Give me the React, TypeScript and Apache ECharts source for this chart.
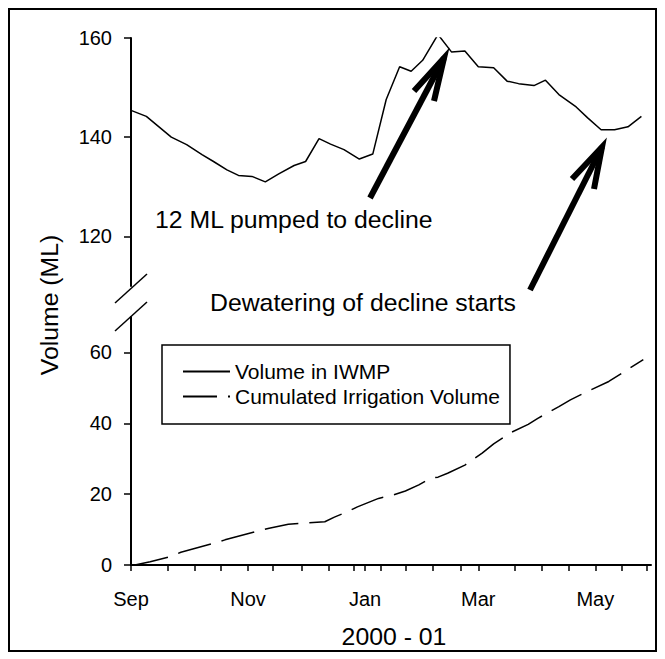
import React, { useEffect, useRef } from "react";
import * as echarts from "echarts";

// Days counted from 1 Sep 2000
const iwmpDays = [0, 8, 21, 29, 37, 43, 50, 56, 63, 70, 77, 85, 91, 98, 104, 111, 119, 126, 133, 140, 146, 152, 160, 167, 174, 181, 189, 196, 202, 210, 216, 223, 232, 238, 245, 252, 259, 266];
const iwmpVolume = [145.4, 144.2, 140.0, 138.5, 136.5, 135.1, 133.4, 132.3, 132.1, 131.0, 132.6, 134.3, 135.1, 139.7, 138.6, 137.5, 135.6, 136.6, 147.6, 154.2, 153.3, 155.5, 160.7, 157.2, 157.4, 154.2, 154.0, 151.3, 150.8, 150.4, 151.5, 148.6, 146.1, 143.9, 141.5, 141.5, 142.1, 144.2];

const irrigDays = [2, 10, 20, 26, 43, 49, 66, 72, 82, 90, 101, 106, 113, 118, 129, 137, 143, 150, 156, 160, 165, 174, 183, 189, 198, 207, 212, 223, 229, 236, 249, 267];
const irrigVolume = [0, 0.9, 2.3, 3.6, 6.1, 7.1, 9.6, 10.4, 11.5, 11.8, 12.2, 13.5, 15.1, 16.4, 18.8, 19.8, 20.9, 22.6, 24.5, 24.8, 25.9, 28.2, 31.6, 34.2, 37.4, 39.7, 41.4, 44.7, 46.6, 48.5, 51.8, 58.0];

const monthTickDays = [0, 61, 122, 181, 242];
const monthLabels = ["Sep", "Nov", "Jan", "Mar", "May"];
const xTickDays = [0, 19, 33, 47, 61, 74, 89, 103, 116, 122, 130, 143, 157, 172, 181, 200, 214, 228, 242, 256, 269];
const upperYTicks = [120, 140, 160];
const lowerYTicks = [0, 20, 40, 60];

const FONT = '"Liberation Sans", Arial, Helvetica, sans-serif';
const BLACK = "#000";

export default function App() {
  const ref = useRef<HTMLDivElement>(null);

  useEffect(() => {
    if (!ref.current) return;
    const chart = echarts.init(ref.current, null, { renderer: "svg" });

    const iwmp = iwmpDays.map((d, i) => [d, iwmpVolume[i]]);
    const irrig = irrigDays.map((d, i) => [d, irrigVolume[i]]);

    const axisLineStyle = { color: BLACK, width: 2 };
    const labelStyle = { color: BLACK, fontSize: 20, fontFamily: FONT };

    const arrow = (tail: number[], tip: number[], b1: number[], b2: number[]) => [
      {
        type: "line",
        shape: { x1: tail[0], y1: tail[1], x2: tip[0], y2: tip[1] },
        style: { stroke: BLACK, lineWidth: 6 },
        silent: true,
      },
      {
        type: "polyline",
        shape: { points: [b1, tip, b2] },
        style: { stroke: BLACK, lineWidth: 6, fill: "none", lineJoin: "miter" },
        silent: true,
      },
    ];

    const option: any = {
      animation: false,
      backgroundColor: "#fff",
      grid: [
        { left: 131, top: 38, width: 520, height: 248 },
        { left: 131, top: 317, width: 520, height: 248 },
      ],
      xAxis: [
        { type: "value", gridIndex: 0, min: 0, max: 271, show: false },
        {
          type: "value",
          gridIndex: 1,
          min: 0,
          max: 271,
          axisLine: { show: true, onZero: false, lineStyle: axisLineStyle },
          splitLine: { show: false },
          axisTick: { show: true, customValues: xTickDays, length: 6, lineStyle: { color: BLACK, width: 1.5 } },
          axisLabel: {
            ...labelStyle,
            customValues: monthTickDays,
            margin: 24,
            formatter: (v: number) => {
              const i = monthTickDays.indexOf(v);
              return i >= 0 ? monthLabels[i] : "";
            },
          },
        },
      ],
      yAxis: [
        {
          type: "value",
          gridIndex: 0,
          min: 110,
          max: 160,
          axisLine: { show: true, lineStyle: axisLineStyle },
          splitLine: { show: false },
          axisTick: { show: true, customValues: upperYTicks, length: 7, lineStyle: { color: BLACK, width: 1.5 } },
          axisLabel: { ...labelStyle, customValues: upperYTicks, margin: 19 },
        },
        {
          type: "value",
          gridIndex: 1,
          min: 0,
          max: 70,
          axisLine: { show: true, lineStyle: axisLineStyle },
          splitLine: { show: false },
          axisTick: { show: true, customValues: lowerYTicks, length: 7, lineStyle: { color: BLACK, width: 1.5 } },
          axisLabel: { ...labelStyle, customValues: lowerYTicks, margin: 19 },
        },
      ],
      legend: {
        left: 162,
        top: 345,
        orient: "vertical",
        padding: [16, 10, 17, 20],
        borderColor: BLACK,
        borderWidth: 1.5,
        itemWidth: 47,
        itemHeight: 14,
        itemGap: 4,
        itemStyle: { color: "rgba(0,0,0,0)", borderWidth: 0 },
        textStyle: { color: BLACK, fontSize: 21, fontFamily: FONT },
        data: ["Volume in IWMP", "Cumulated Irrigation Volume"],
      },
      series: [
        {
          name: "Volume in IWMP",
          type: "line",
          xAxisIndex: 0,
          yAxisIndex: 0,
          data: iwmp,
          symbol: "none",
          lineStyle: { color: BLACK, width: 1.5 },
          itemStyle: { color: BLACK },
        },
        {
          name: "Cumulated Irrigation Volume",
          type: "line",
          xAxisIndex: 1,
          yAxisIndex: 1,
          data: irrig,
          symbol: "none",
          lineStyle: { color: BLACK, width: 1.5, type: [34, 11] },
          itemStyle: { color: BLACK },
        },
      ],
      graphic: [
        {
          type: "rect",
          shape: { x: 9, y: 9, width: 647, height: 642 },
          style: { fill: "none", stroke: BLACK, lineWidth: 2 },
          silent: true,
        },
        // axis break marks
        {
          type: "line",
          shape: { x1: 115, y1: 303, x2: 147, y2: 274 },
          style: { stroke: BLACK, lineWidth: 1.5 },
          silent: true,
        },
        {
          type: "line",
          shape: { x1: 115, y1: 331, x2: 147, y2: 302 },
          style: { stroke: BLACK, lineWidth: 1.5 },
          silent: true,
        },
        ...arrow([370, 198], [444, 58], [414, 91], [434, 101]),
        ...arrow([530, 290], [602, 147], [572, 179], [594, 189]),
        {
          type: "text",
          x: 155,
          y: 219,
          style: { text: "12 ML pumped to decline", fill: BLACK, fontSize: 24.8, fontFamily: FONT, verticalAlign: "middle" },
        },
        {
          type: "text",
          x: 210,
          y: 302,
          style: { text: "Dewatering of decline starts", fill: BLACK, fontSize: 24.8, fontFamily: FONT, verticalAlign: "middle" },
        },
        {
          type: "text",
          x: 394,
          y: 636,
          style: { text: "2000 - 01", fill: BLACK, fontSize: 24.8, fontFamily: FONT, align: "center", verticalAlign: "middle" },
        },
        {
          type: "text",
          x: 49,
          y: 305,
          rotation: Math.PI / 2,
          style: { text: "Volume (ML)", fill: BLACK, fontSize: 24.8, fontFamily: FONT, align: "center", verticalAlign: "middle" },
        },
      ],
    };

    chart.setOption(option);
    return () => chart.dispose();
  }, []);

  return (
    <div
      ref={ref}
      style={{ position: "fixed", left: 0, top: 0, width: 665, height: 659, background: "#fff" }}
    />
  );
}
